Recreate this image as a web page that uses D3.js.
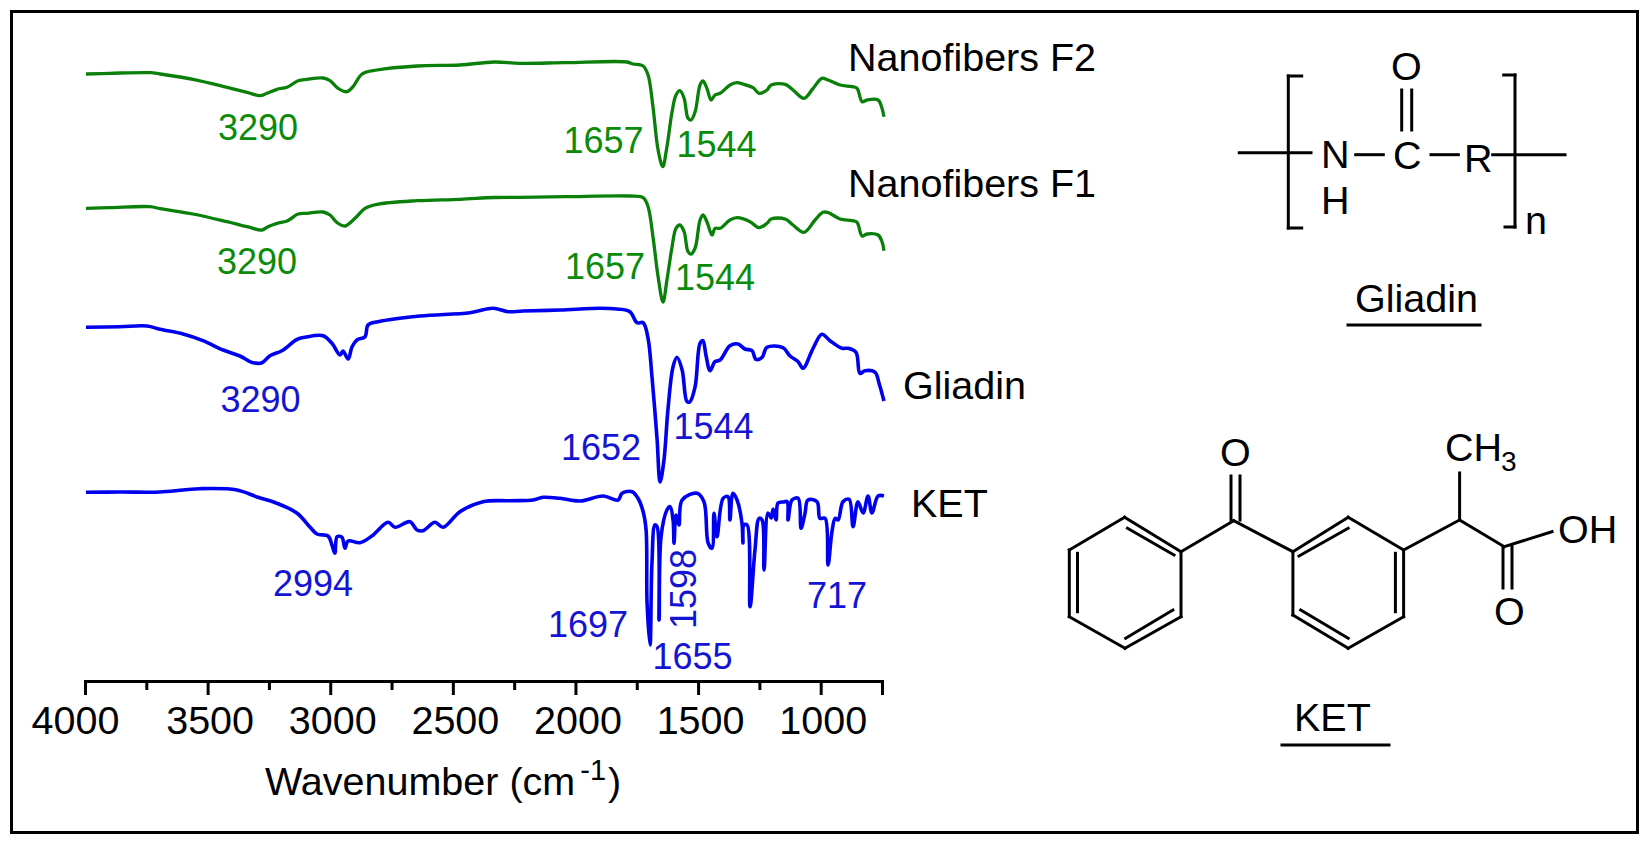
<!DOCTYPE html>
<html>
<head>
<meta charset="utf-8">
<title>FTIR spectra</title>
<script src="https://cdn.jsdelivr.net/npm/d3@7"></script>
<style>
	html, body { margin: 0; padding: 0; background: #fff; }
	svg { display: block; font-family: "Liberation Sans", Arial, sans-serif; }
</style>
</head>
<body>
<div id="chart"></div>
<script>
// spectra: wavenumber (cm-1) and relative signal (a.u.)
var f2Wave = [3996,3898,3735,3694,3560,3421,3339,3286,3258,3217,3176,3131,3095,3029,3001,2968,2932,2907,2870,2809,2646,2471,2332,2226,2043,1790,1765,1724,1704,1684,1663,1644,1627,1606,1590,1574,1557,1541,1529,1512,1492,1480,1464,1447,1431,1410,1370,1341,1317,1276,1251,1219,1202,1145,1113,1068,1031,995,970,921,872,852,831,811,766,750,742];
var f2Val = [607,607.7,608.3,607,601.7,593.7,588.7,585.3,587.7,591.7,593.7,600.3,601.7,603,600.3,592.7,589.3,594.3,607,611,615,616,619,617.7,618.3,619,617,615,606,574.3,531,514.3,534.3,569.3,586,590.3,582.7,562.7,561,569.3,596,600,592.7,581,586,587.7,596,598.3,597,593.3,587.7,591,596,596.7,591,582.7,592.7,602.7,601,596,594.3,592.7,579.3,581,581,572.7,564.3];

var f1Wave = [3996,3898,3735,3694,3560,3421,3339,3278,3254,3217,3176,3131,3095,3029,3001,2972,2940,2899,2858,2809,2646,2471,2332,2226,2043,1778,1724,1704,1684,1663,1643,1627,1606,1590,1574,1557,1541,1529,1512,1492,1480,1464,1443,1431,1410,1370,1341,1288,1251,1219,1202,1145,1113,1068,1023,991,970,921,872,852,831,811,766,750,742];
var f1Val = [472.7,473.3,474.3,472.3,467,459.3,454.3,451,454.3,457.7,460,467,467.7,469,466,458.3,455,462.7,472.7,476.7,480.3,481.7,483.5,483.7,484.3,485,483.3,474.3,444.3,404.3,379,401,434.3,452.7,456,449.3,429.3,427,433,461,466,459.3,446,452.7,452.7,461,463.3,459.3,453.3,457.7,462,462,456,448.7,461,468.7,468.5,462,460.3,458.7,445,447,446,439.3,430.3];

var gliadinWave = [3996,3857,3747,3694,3600,3519,3437,3368,3315,3278,3246,3197,3135,3103,3029,2993,2960,2948,2927,2911,2891,2858,2846,2805,2634,2430,2336,2275,2214,2063,1900,1831,1778,1749,1724,1704,1688,1667,1655,1639,1623,1602,1586,1565,1545,1533,1512,1492,1480,1468,1451,1431,1410,1370,1337,1309,1280,1264,1239,1219,1154,1125,1092,1072,1031,995,962,913,889,856,840,819,778,762,742];
var gliadinVal = [353.7,354.3,355,351.7,347,340.3,331,325,318.3,318.3,325.3,330.3,341.7,343.7,345.3,337.7,326,330,322,334.3,341,344.3,356,359.3,365,368.3,372.7,369.3,370,371,372.7,372,369.3,358.3,358.3,342.7,304.3,241,199,221,271,314.3,323.7,311,279.3,279.3,294.3,337.7,340.3,326,310.3,319.3,321,335.3,337,332,330.3,321.7,323.7,333.7,333.3,325,319.3,312.7,332.7,346.7,340.3,332.7,332.7,328.7,307.7,310.3,308.7,297.7,280];

var ketWave = [3996,3857,3694,3600,3531,3380,3295,3217,3135,3082,3054,3009,2993,2981,2972,2952,2940,2927,2879,2830,2764,2736,2675,2646,2622,2573,2540,2471,2377,2267,2173,2132,2063,1981,1888,1826,1810,1769,1745,1724,1712,1708,1696,1688,1676,1667,1659,1651,1627,1614,1602,1598,1590,1578,1565,1504,1476,1459,1443,1435,1423,1398,1378,1370,1358,1341,1321,1317,1313,1300,1288,1268,1251,1239,1231,1215,1202,1194,1182,1174,1153,1137,1133,1117,1092,1080,1064,1052,1015,1003,982,970,954,941,929,909,884,868,848,827,807,791,766,742];
var ketVal = [188.7,189,189,191,192.3,191,183.7,177.7,167.7,153.7,147,145,136,127.7,144.3,143.7,132.7,140,138.3,145,158.7,153.7,159.3,151,150.3,158.7,153.7,169.3,179.3,180.3,181,183.7,182.7,180,185,181,187.7,189.3,182.7,169.3,151,78,36,118,156,154.3,61,144.3,171,174.3,161,137.7,166,156,181,187.7,179.3,138,132.7,167.7,144.3,182.7,184.3,161,187.7,181,157.7,138,156,156,74.3,131,162.7,161,111,168,163,172,161,178,179,179.3,161,181,182.7,152.7,167.7,181,179.3,162.7,162.7,116,149.3,162.7,161,179.3,181.7,154.3,179.3,168,185,168,185,185];

var majorTicks = [4000,3500,3000,2500,2000,1500,1000];
var minorTicks = [3750,3250,2750,2250,1750,1250,750];

var width = 1650, height = 848;
var green = '#0a800a', blue = '#0000f0';
var greenText = '#0a8c0a', blueText = '#1414d2';

var x = d3.scaleLinear().domain([4000, 750]).range([85, 882]);
var y = d3.scaleLinear().domain([0, 640]).range([681, 41]);

var svg = d3.select('#chart').append('svg')
	.attr('width', width).attr('height', height);

svg.append('rect')
	.attr('x', 11.5).attr('y', 11.5).attr('width', 1626).attr('height', 821)
	.attr('fill', '#fff').attr('stroke', '#000').attr('stroke-width', 3);

// spectra
var line = d3.line()
	.x(function(d) { return x(d[0]); })
	.y(function(d) { return y(d[1]); })
	.curve(d3.curveCatmullRom.alpha(0.5));

[[f2Wave, f2Val, green, 3.3], [f1Wave, f1Val, green, 3.3], [gliadinWave, gliadinVal, blue, 3.6], [ketWave, ketVal, blue, 3.6]].forEach(function(s) {
	svg.append('path')
		.datum(d3.zip(s[0], s[1]))
		.attr('d', line)
		.attr('fill', 'none')
		.attr('stroke', s[2])
		.attr('stroke-width', s[3])
		.attr('stroke-linejoin', 'round');
});

// x axis
var axisG = svg.append('g').attr('transform', 'translate(0,' + y(0) + ')');
axisG.call(d3.axisBottom(x).tickValues(majorTicks).tickSize(14).tickPadding(11).tickFormat(d3.format('d')));
axisG.append('g').call(d3.axisBottom(x).tickValues(minorTicks).tickSize(9).tickFormat(''));
axisG.selectAll('path.domain, line').attr('stroke', '#000').attr('stroke-width', 3);
axisG.selectAll('text')
	.attr('fill', '#000')
	.attr('dx', function(d) { return d === 4000 ? -10 : 2; })
	.style('font-family', '"Liberation Sans", Arial, sans-serif')
	.style('font-size', '39.5px');

var xTitle = svg.append('text')
	.attr('x', 265).attr('y', 795)
	.style('font-size', '39.5px').attr('fill', '#000');
xTitle.append('tspan').text('Wavenumber (cm');
xTitle.append('tspan').attr('dy', -15).attr('dx', 5).style('font-size', '29px').text('-1');
xTitle.append('tspan').attr('dy', 15).attr('dx', 2).text(')');

// peak labels
var peakLabels = [
	['3290', 258, 140, greenText], ['1657', 603.5, 153, greenText], ['1544', 716.5, 157, greenText],
	['3290', 257, 274, greenText], ['1657', 605, 279, greenText], ['1544', 715, 290, greenText],
	['3290', 260.5, 412, blueText], ['1652', 601, 460, blueText], ['1544', 713.5, 439, blueText],
	['2994', 313, 596, blueText], ['1697', 588, 637, blueText], ['1655', 692.5, 669, blueText], ['717', 837, 608, blueText]
];
svg.selectAll('.peak').data(peakLabels).enter().append('text')
	.attr('class', 'peak')
	.attr('x', function(d) { return d[1]; })
	.attr('y', function(d) { return d[2]; })
	.attr('fill', function(d) { return d[3]; })
	.attr('text-anchor', 'middle')
	.style('font-size', '36px')
	.text(function(d) { return d[0]; });

svg.append('text')
	.attr('transform', 'translate(696,589) rotate(-90)')
	.attr('fill', blueText)
	.attr('text-anchor', 'middle')
	.style('font-size', '36px')
	.text('1598');

// labels in black
var blackLabels = [
	['Nanofibers F2', 848, 71], ['Nanofibers F1', 848, 197], ['Gliadin', 903, 399], ['KET', 911, 517],
	['O', 1391, 80], ['N', 1321, 168], ['H', 1321, 214], ['C', 1393, 169], ['R', 1464, 172], ['n', 1525, 234],
	['Gliadin', 1355, 312], ['O', 1220, 466], ['CH', 1445, 461], ['O', 1494, 625], ['OH', 1558, 543], ['KET', 1294, 731]
];
svg.selectAll('.lbl').data(blackLabels).enter().append('text')
	.attr('class', 'lbl')
	.attr('x', function(d) { return d[1]; })
	.attr('y', function(d) { return d[2]; })
	.attr('fill', '#000')
	.style('font-size', '39.5px')
	.text(function(d) { return d[0]; });
svg.append('text').attr('x', 1501).attr('y', 471).attr('fill', '#000').style('font-size', '28px').text('3');

// chemical structures, drawn as plain bond segments
var bonds = [
	// gliadin repeat unit
	[1301.7,76,1288.3,76], [1288.3,76,1288.3,228], [1288.3,228,1301.7,228],
	[1503.7,75,1515,75], [1515,75,1515,227], [1515,227,1505,227],
	[1239.3,152.7,1311,152.7], [1355.7,154.7,1383.3,154.7], [1431,154.7,1458.3,154.7], [1492.7,154.7,1565,154.7],
	[1401.7,90,1401.7,130], [1411.7,90,1411.7,130], [1348,325,1480,325],
	// ketoprofen, first ring
	[1124.6,517.3,1181,551.7], [1181,551.7,1181,616.7], [1181,616.7,1125,648.3], [1125,648.3,1069.3,616.7], [1069.3,616.7,1069.3,550], [1069.3,550,1124.6,517.3],
	[1127.5,528.3,1174,555], [1077.5,553.3,1077.5,611.7], [1125.7,638.3,1172.9,610],
	// carbonyl
	[1181,551.7,1233.6,520.7], [1233.6,520.7,1292.9,551.7], [1231,476,1231,520], [1240,476,1240,520],
	// second ring
	[1292.9,551.7,1348.2,517.3], [1348.2,517.3,1403.6,550], [1403.6,550,1403.6,616.7], [1403.6,616.7,1348.2,648.3], [1348.2,648.3,1292.9,615], [1292.9,615,1292.9,551.7],
	[1299,556,1348.2,528.3], [1395.4,553.3,1395.4,611.7], [1300.7,610,1348.2,638.3],
	// propionic acid side chain
	[1403.6,550,1459.6,520], [1459.6,520,1459.6,473], [1459.6,520,1504.3,546.7], [1503,546.7,1503,588], [1512,546.7,1512,588], [1504.3,546.7,1552,531.7],
	[1282,745,1389,745]
];
svg.selectAll('.bond').data(bonds).enter().append('line')
	.attr('class', 'bond')
	.attr('x1', function(d) { return d[0]; })
	.attr('y1', function(d) { return d[1]; })
	.attr('x2', function(d) { return d[2]; })
	.attr('y2', function(d) { return d[3]; })
	.attr('stroke', '#000')
	.attr('stroke-width', 3)
	.attr('stroke-linecap', 'square');
</script>
</body>
</html>
